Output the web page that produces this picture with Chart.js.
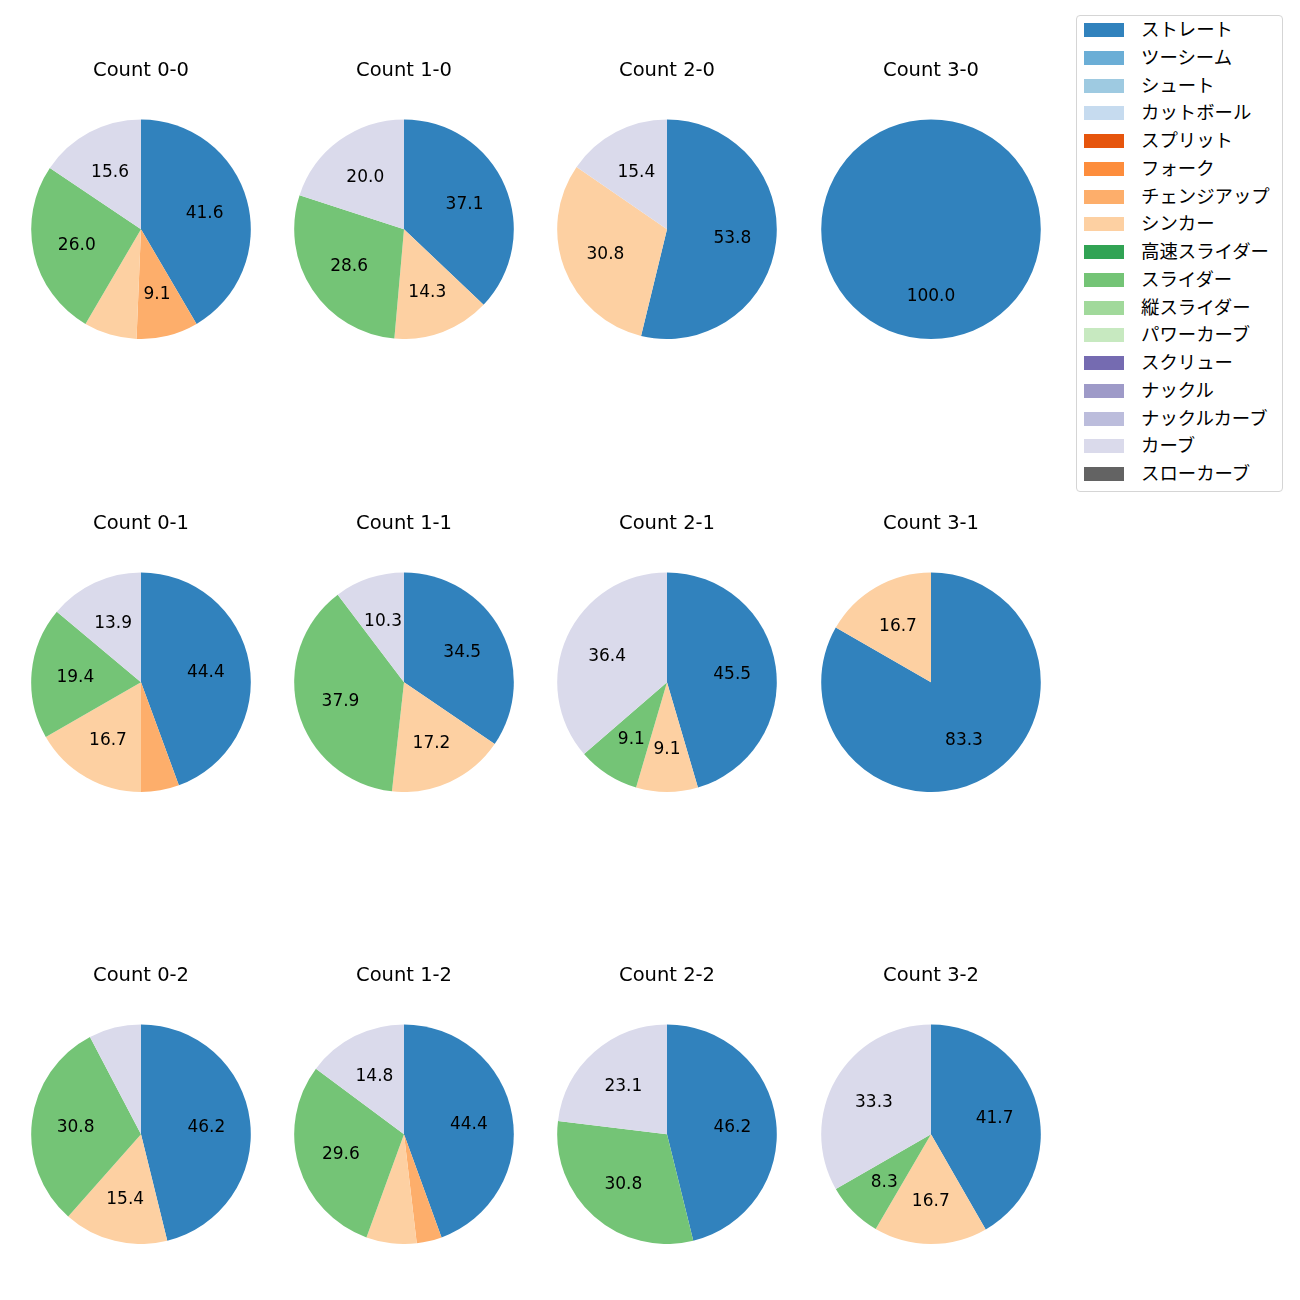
<!DOCTYPE html>
<html>
<head>
<meta charset="utf-8">
<script src="https://cdn.jsdelivr.net/npm/chart.js@4.4.1/dist/chart.umd.min.js"></script>
<style>
  body { margin: 0; background: #fff; width: 1300px; height: 1300px; position: relative; font-family: "Noto Sans CJK JP", sans-serif; }
  canvas { position: absolute; }
  #legend { position: absolute; left: 1076px; top: 15px; width: 207px; height: 477px; border: 1px solid #d5d5d5; border-radius: 4px; box-sizing: border-box; }
  .item { position: absolute; left: 0; height: 20px; }
  .patch { position: absolute; left: 7px; top: 3px; width: 40px; height: 14px; }
  .lbl { position: absolute; left: 64px; top: -5px; font-size: 18.4px; color: #000; white-space: nowrap; line-height: 26px; }
</style>
</head>
<body>
<div id="legend"></div>
<script>
// 球種と色 (tab20c)
const pitchTypes = ["ストレート", "ツーシーム", "シュート", "カットボール", "スプリット", "フォーク",
    "チェンジアップ", "シンカー", "高速スライダー", "スライダー", "縦スライダー", "パワーカーブ",
    "スクリュー", "ナックル", "ナックルカーブ", "カーブ", "スローカーブ"];
const pitchColors = ["#3182bd", "#6baed6", "#9ecae1", "#c6dbef", "#e6550d", "#fd8d3c",
    "#fdae6b", "#fdd0a2", "#31a354", "#74c476", "#a1d99b", "#c7e9c0",
    "#756bb1", "#9e9ac8", "#bcbddc", "#dadaeb", "#636363"];

// カウント別の割合 (%)、pitchTypes の順
const count00 = [41.6, 0, 0, 0, 0, 0, 9.1, 7.8, 0, 26.0, 0, 0, 0, 0, 0, 15.6, 0];
const count10 = [37.1, 0, 0, 0, 0, 0, 0, 14.3, 0, 28.6, 0, 0, 0, 0, 0, 20.0, 0];
const count20 = [53.8, 0, 0, 0, 0, 0, 0, 30.8, 0, 0, 0, 0, 0, 0, 0, 15.4, 0];
const count30 = [100.0, 0, 0, 0, 0, 0, 0, 0, 0, 0, 0, 0, 0, 0, 0, 0, 0];
const count01 = [44.4, 0, 0, 0, 0, 0, 5.6, 16.7, 0, 19.4, 0, 0, 0, 0, 0, 13.9, 0];
const count11 = [34.5, 0, 0, 0, 0, 0, 0, 17.2, 0, 37.9, 0, 0, 0, 0, 0, 10.3, 0];
const count21 = [45.5, 0, 0, 0, 0, 0, 0, 9.1, 0, 9.1, 0, 0, 0, 0, 0, 36.4, 0];
const count31 = [83.3, 0, 0, 0, 0, 0, 0, 16.7, 0, 0, 0, 0, 0, 0, 0, 0, 0];
const count02 = [46.2, 0, 0, 0, 0, 0, 0, 15.4, 0, 30.8, 0, 0, 0, 0, 0, 7.7, 0];
const count12 = [44.4, 0, 0, 0, 0, 0, 3.7, 7.4, 0, 29.6, 0, 0, 0, 0, 0, 14.8, 0];
const count22 = [46.2, 0, 0, 0, 0, 0, 0, 0, 0, 30.8, 0, 0, 0, 0, 0, 23.1, 0];
const count32 = [41.7, 0, 0, 0, 0, 0, 0, 16.7, 0, 8.3, 0, 0, 0, 0, 0, 33.3, 0];

const countTitles = ["Count 0-0", "Count 1-0", "Count 2-0", "Count 3-0",
    "Count 0-1", "Count 1-1", "Count 2-1", "Count 3-1",
    "Count 0-2", "Count 1-2", "Count 2-2", "Count 3-2"];
const countData = [count00, count10, count20, count30, count01, count11, count21, count31,
    count02, count12, count22, count32];

const FONT = '"DejaVu Sans", "Noto Sans CJK JP", sans-serif';
const colX = [140.5, 404, 667, 930.5];
const rowY = [229.5, 682, 1134.5];
const R = 110;
const titleBlock = 72.4;

// 割合ラベル (半径の0.6の位置、8%未満は非表示)
const pctLabels = {
    id: "pctLabels",
    afterDatasetsDraw(chart) {
        const ctx = chart.ctx;
        const values = chart.data.datasets[0].data;
        ctx.save();
        ctx.font = `17px ${FONT}`;
        ctx.fillStyle = "#000";
        ctx.textAlign = "center";
        ctx.textBaseline = "middle";
        chart.getDatasetMeta(0).data.forEach((arc, i) => {
            if (values[i] < 8) return;
            const p = arc.getProps(["x", "y", "startAngle", "endAngle", "outerRadius"], true);
            const mid = (p.startAngle + p.endAngle) / 2;
            ctx.fillText(values[i].toFixed(1),
                p.x + Math.cos(mid) * p.outerRadius * 0.6,
                p.y + Math.sin(mid) * p.outerRadius * 0.6 + 1.5);
        });
        ctx.restore();
    }
};

countData.forEach((values, k) => {
    const cx = colX[k % 4];
    const cy = rowY[Math.floor(k / 4)];
    const canvas = document.createElement("canvas");
    canvas.width = 2 * R;
    canvas.height = 2 * R + titleBlock;
    canvas.style.width = canvas.width + "px";
    canvas.style.height = canvas.height + "px";
    canvas.style.left = (cx - R) + "px";
    canvas.style.top = (cy - R - titleBlock) + "px";
    document.body.appendChild(canvas);

    new Chart(canvas.getContext("2d"), {
        type: "pie",
        data: {
            labels: pitchTypes,
            datasets: [{
                data: values,
                backgroundColor: pitchColors,
                borderWidth: 0,
                hoverOffset: 0
            }]
        },
        options: {
            responsive: false,
            animation: false,
            layout: { padding: 0 },
            plugins: {
                legend: { display: false },
                tooltip: { enabled: false },
                title: {
                    display: true,
                    text: countTitles[k],
                    color: "#000",
                    font: { family: FONT, size: 19.5, weight: "normal", lineHeight: 1.2 },
                    padding: { top: 12, bottom: 37 }
                }
            }
        },
        plugins: [pctLabels]
    });
});

// 凡例
const legend = document.getElementById("legend");
pitchTypes.forEach((name, i) => {
    const item = document.createElement("div");
    item.className = "item";
    item.style.top = (4 + i * 27.75) + "px";
    item.innerHTML = `<div class="patch" style="background:${pitchColors[i]}"></div><div class="lbl">${name}</div>`;
    legend.appendChild(item);
});
</script>
</body>
</html>
